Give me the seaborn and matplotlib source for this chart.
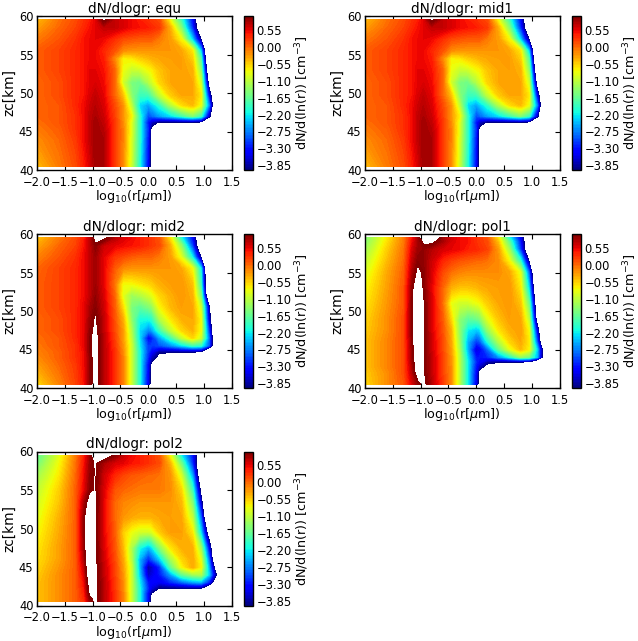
import numpy as np
import matplotlib
matplotlib.use("Agg")
import matplotlib.pyplot as plt
import seaborn as sns

# log10(r) columns shared by every panel
log_r = [-2.0, -1.6, -1.3, -1.15, -1.05, -0.95, -0.8, -0.6, -0.45, -0.3, -0.15, 0.0, 0.06, 0.2, 0.4, 0.6, 0.8, 0.95, 1.1, 1.25]

zc_equ = [40.5, 44, 45.3, 46.2, 47, 48.4, 49.7, 51.4, 53, 54.5, 55.5, 57, 58.5, 59.5]
dn_equ = [
    [-0.45, -0.1, 0.15, 0.4, 0.6, 0.85, 0.8, 0.25, -0.2, -1.0, -2.1, -3.4, -4.4, -6, -6, -6, -6, -6, -6, -6],
    [-0.2, 0.0, 0.25, 0.5, 0.7, 0.85, 0.8, 0.25, -0.15, -0.95, -2.0, -3.3, -4.3, -6, -6, -6, -6, -6, -6, -6],
    [-0.1, 0.05, 0.3, 0.5, 0.7, 0.85, 0.75, 0.25, -0.15, -0.9, -2.0, -3.2, -4.2, -5, -6, -6, -6, -6, -6, -6],
    [-0.05, 0.1, 0.3, 0.5, 0.7, 0.85, 0.7, 0.25, -0.2, -0.9, -2.0, -3.3, -3.7, -4.05, -4.05, -4.05, -4.05, -4.1, -5, -6],
    [0.0, 0.1, 0.3, 0.5, 0.7, 0.8, 0.65, 0.2, -0.25, -0.75, -2.0, -3.0, -2.9, -2.6, -2.3, -1.9, -1.5, -1.9, -3.8, -6],
    [0.0, 0.1, 0.35, 0.5, 0.65, 0.75, 0.6, 0.15, -0.25, -1.1, -2.3, -2.6, -2.4, -2.0, -1.2, -0.65, -0.45, -0.85, -2.8, -6],
    [0.0, 0.15, 0.35, 0.45, 0.6, 0.7, 0.55, 0.0, -0.5, -1.4, -1.9, -1.9, -1.7, -1.1, -0.55, -0.35, -0.35, -0.7, -3.5, -6],
    [0.0, 0.15, 0.35, 0.45, 0.55, 0.6, 0.5, 0.0, -1.0, -1.5, -1.6, -1.2, -1.0, -0.6, -0.35, -0.3, -0.35, -1.0, -4.5, -6],
    [0.05, 0.2, 0.35, 0.45, 0.55, 0.55, 0.45, 0.0, -0.85, -1.05, -1.0, -0.8, -0.75, -0.5, -0.35, -0.3, -0.4, -1.4, -5.2, -6],
    [0.05, 0.2, 0.35, 0.45, 0.5, 0.5, 0.4, -0.2, -0.75, -0.7, -0.55, -0.45, -0.4, -0.35, -0.3, -0.3, -0.55, -1.8, -6, -6],
    [0.05, 0.2, 0.35, 0.45, 0.5, 0.5, 0.35, 0.1, -0.2, -0.25, -0.25, -0.25, -0.25, -0.25, -0.25, -0.35, -0.7, -2.4, -6, -6],
    [-0.1, 0.1, 0.3, 0.45, 0.5, 0.55, 0.5, 0.3, 0.15, 0.1, 0.05, 0.05, 0.05, -0.1, -0.3, -0.8, -2.4, -4.0, -6, -6],
    [-0.3, 0.0, 0.2, 0.35, 0.45, 0.55, 0.7, 0.7, 0.6, 0.5, 0.45, 0.4, 0.35, 0.25, -0.4, -1.5, -3.2, -5, -6, -6],
    [-0.45, -0.05, 0.15, 0.3, 0.4, 0.55, 1.05, 0.7, 0.6, 0.5, 0.4, 0.3, 0.25, 0.15, -0.8, -1.9, -3.4, -5, -6, -6],
]

# mid1 can't be told apart from equ in the picture
zc_mid1 = zc_equ
dn_mid1 = dn_equ

zc_mid2 = [40.5, 43, 44, 44.7, 45.5, 46.5, 47.5, 49, 50.5, 52, 53.5, 55.5, 57, 58.5, 59.5]
dn_mid2 = [
    [-0.6, -0.15, 0.2, 0.45, 0.9, 1.15, 0.75, 0.3, -0.15, -1.0, -2.1, -3.5, -4.4, -6, -6, -6, -6, -6, -6, -6],
    [-0.3, 0.0, 0.25, 0.5, 0.9, 1.15, 0.75, 0.3, -0.15, -1.0, -2.1, -3.4, -4.2, -6, -6, -6, -6, -6, -6, -6],
    [-0.2, 0.05, 0.3, 0.5, 0.9, 1.15, 0.75, 0.3, -0.15, -1.0, -2.1, -3.2, -3.7, -4.2, -4.3, -4.3, -4.4, -5, -6, -6],
    [-0.15, 0.05, 0.3, 0.5, 0.95, 1.15, 0.75, 0.3, -0.2, -1.0, -2.1, -3.1, -3.4, -3.9, -3.95, -3.95, -3.95, -4.05, -6, -6],
    [-0.1, 0.1, 0.3, 0.55, 0.95, 1.15, 0.75, 0.25, -0.25, -1.0, -2.2, -3.1, -3.1, -3.0, -2.7, -2.3, -1.9, -2.0, -3.0, -6],
    [-0.05, 0.1, 0.35, 0.55, 0.95, 1.15, 0.75, 0.2, -0.3, -1.1, -2.3, -3.4, -3.3, -2.6, -1.9, -1.1, -0.6, -1.0, -2.9, -6],
    [0.0, 0.15, 0.35, 0.55, 0.9, 1.1, 0.7, 0.15, -0.3, -1.2, -2.3, -2.7, -2.6, -1.9, -1.1, -0.6, -0.4, -0.8, -3.2, -6],
    [0.0, 0.15, 0.35, 0.55, 0.85, 1.05, 0.7, 0.1, -0.4, -1.4, -2.1, -2.1, -2.0, -1.2, -0.7, -0.4, -0.35, -0.8, -3.7, -6],
    [0.05, 0.2, 0.35, 0.55, 0.8, 0.95, 0.65, 0.05, -0.65, -1.5, -1.7, -1.5, -1.4, -0.8, -0.45, -0.3, -0.35, -1.0, -3.9, -6],
    [0.05, 0.2, 0.35, 0.5, 0.7, 0.9, 0.6, 0.0, -0.9, -1.3, -1.2, -1.0, -0.9, -0.6, -0.4, -0.25, -0.4, -1.5, -5.5, -6],
    [0.05, 0.2, 0.35, 0.5, 0.7, 0.85, 0.55, -0.1, -0.8, -0.8, -0.7, -0.6, -0.55, -0.4, -0.3, -0.25, -0.5, -1.9, -6, -6],
    [0.0, 0.2, 0.35, 0.5, 0.7, 0.85, 0.55, 0.05, -0.2, -0.25, -0.25, -0.25, -0.25, -0.25, -0.25, -0.35, -0.8, -2.2, -6, -6],
    [-0.15, 0.1, 0.3, 0.5, 0.7, 0.85, 0.55, 0.25, 0.15, 0.05, 0.0, 0.0, 0.0, -0.1, -0.3, -0.9, -2.2, -4.0, -6, -6],
    [-0.35, 0.0, 0.2, 0.45, 0.7, 0.95, 0.65, 0.55, 0.5, 0.45, 0.4, 0.3, 0.25, 0.15, -0.4, -1.4, -3.1, -5, -6, -6],
    [-0.5, -0.1, 0.15, 0.4, 0.7, 1.15, 1.1, 0.75, 0.6, 0.5, 0.4, 0.3, 0.25, 0.1, -0.7, -2.1, -3.4, -5, -6, -6],
]

zc_pol1 = [40.5, 42, 42.8, 43.4, 44, 45, 46, 47.5, 49, 51, 53, 55, 56.5, 58, 59, 59.5]
dn_pol1 = [
    [-0.6, -0.2, 0.1, 0.6, 0.9, 1.12, 0.75, 0.25, -0.2, -1.1, -2.2, -3.5, -4.4, -6, -6, -6, -6, -6, -6, -6],
    [-0.55, -0.2, 0.15, 0.75, 1.25, 1.05, 0.7, 0.2, -0.2, -1.1, -2.2, -3.4, -4.3, -6, -6, -6, -6, -6, -6, -6],
    [-0.5, -0.15, 0.15, 0.8, 1.3, 1.05, 0.7, 0.2, -0.2, -1.1, -2.2, -3.3, -3.7, -4.2, -4.3, -4.3, -4.4, -4.6, -6, -6],
    [-0.5, -0.15, 0.15, 0.85, 1.35, 1.05, 0.7, 0.2, -0.25, -1.1, -2.2, -3.2, -3.4, -3.8, -3.95, -3.95, -3.95, -4.05, -5, -6],
    [-0.5, -0.15, 0.15, 0.9, 1.4, 1.05, 0.7, 0.2, -0.25, -1.1, -2.3, -3.3, -3.3, -3.2, -2.7, -2.1, -1.4, -1.6, -2.5, -5],
    [-0.5, -0.15, 0.15, 0.9, 1.4, 1.05, 0.65, 0.15, -0.3, -1.2, -2.5, -3.6, -3.5, -2.9, -1.7, -0.9, -0.45, -0.75, -2.4, -5],
    [-0.5, -0.15, 0.15, 0.95, 1.45, 1.05, 0.65, 0.15, -0.35, -1.3, -2.5, -3.1, -3.0, -2.1, -1.2, -0.6, -0.35, -0.7, -3.0, -6],
    [-0.55, -0.2, 0.15, 1.0, 1.5, 1.05, 0.6, 0.1, -0.4, -1.4, -2.2, -2.4, -2.3, -1.4, -0.7, -0.4, -0.3, -0.8, -3.6, -6],
    [-0.6, -0.2, 0.15, 1.0, 1.5, 1.05, 0.6, 0.05, -0.6, -1.4, -1.7, -1.6, -1.5, -0.9, -0.5, -0.3, -0.35, -1.1, -4.5, -6],
    [-0.7, -0.25, 0.1, 1.0, 1.5, 1.05, 0.6, -0.05, -0.85, -1.0, -1.0, -0.85, -0.8, -0.55, -0.35, -0.25, -0.5, -1.6, -5, -6],
    [-0.8, -0.3, 0.1, 0.95, 1.3, 0.98, 0.55, 0.0, -0.4, -0.5, -0.5, -0.45, -0.4, -0.35, -0.3, -0.25, -0.7, -2.3, -5.5, -6],
    [-0.95, -0.35, 0.05, 0.8, 1.1, 0.95, 0.6, 0.15, -0.05, -0.15, -0.2, -0.2, -0.2, -0.2, -0.2, -0.35, -0.9, -2.9, -6, -6],
    [-1.1, -0.45, 0.0, 0.7, 0.95, 0.9, 0.65, 0.35, 0.2, 0.1, 0.05, 0.0, 0.0, -0.05, -0.2, -0.8, -2.0, -4.0, -6, -6],
    [-1.3, -0.55, -0.05, 0.6, 0.85, 0.9, 0.75, 0.6, 0.55, 0.5, 0.4, 0.35, 0.3, 0.2, -0.3, -1.3, -3.1, -5, -6, -6],
    [-1.45, -0.65, -0.1, 0.5, 0.8, 1.05, 1.1, 0.8, 0.6, 0.5, 0.45, 0.3, 0.25, 0.15, -0.5, -1.7, -3.3, -5, -6, -6],
    [-1.5, -0.7, -0.1, 0.45, 0.85, 1.3, 1.3, 0.85, 0.65, 0.5, 0.45, 0.3, 0.25, 0.1, -0.7, -2.1, -3.5, -5, -6, -6],
]

zc_pol2 = [40.5, 41, 41.6, 42.2, 43, 44, 45, 46, 47.5, 49.5, 51.5, 53.5, 55, 57, 58.5, 59.5]
dn_pol2 = [
    [-0.5, -0.2, 0.05, 0.3, 0.85, 1.1, 0.75, 0.3, -0.15, -1.0, -2.1, -3.4, -4.4, -6, -6, -6, -6, -6, -6, -6],
    [-0.5, -0.2, 0.05, 0.35, 0.95, 1.1, 0.75, 0.3, -0.15, -1.0, -2.1, -3.4, -4.3, -6, -6, -6, -6, -6, -6, -6],
    [-0.5, -0.2, 0.05, 0.4, 1.1, 1.1, 0.75, 0.3, -0.15, -1.0, -2.1, -3.4, -4.0, -4.3, -4.4, -4.4, -4.4, -4.5, -6, -6],
    [-0.5, -0.2, 0.05, 0.45, 1.2, 1.1, 0.75, 0.25, -0.2, -1.0, -2.1, -3.2, -3.6, -4.05, -4.05, -4.05, -4.05, -4.05, -5, -6],
    [-0.5, -0.2, 0.05, 0.5, 1.3, 1.1, 0.75, 0.25, -0.2, -1.0, -2.2, -3.3, -3.4, -3.5, -3.2, -2.9, -2.6, -2.5, -3.3, -5],
    [-0.55, -0.2, 0.05, 0.6, 1.5, 1.1, 0.7, 0.2, -0.25, -1.0, -2.4, -3.7, -3.6, -3.3, -2.6, -1.7, -1.3, -1.2, -2.4, -4.3],
    [-0.6, -0.25, 0.05, 0.7, 1.6, 1.1, 0.7, 0.2, -0.3, -1.0, -2.5, -3.85, -3.7, -3.2, -1.7, -0.8, -0.35, -0.75, -2.6, -5],
    [-0.65, -0.3, 0.05, 0.8, 1.7, 1.05, 0.65, 0.15, -0.35, -1.15, -2.5, -3.2, -3.0, -2.4, -1.3, -0.6, -0.35, -0.9, -2.9, -6],
    [-0.7, -0.3, 0.05, 0.9, 1.8, 1.05, 0.6, 0.1, -0.45, -1.2, -2.1, -2.5, -2.3, -1.5, -0.7, -0.4, -0.4, -1.3, -3.5, -6],
    [-0.8, -0.35, 0.05, 0.95, 1.9, 1.05, 0.55, 0.05, -0.55, -0.85, -1.0, -1.0, -0.95, -0.55, -0.3, -0.3, -0.7, -2.3, -4.6, -6],
    [-0.9, -0.4, 0.05, 0.95, 1.7, 1.05, 0.55, 0.0, -0.25, -0.35, -0.4, -0.4, -0.4, -0.35, -0.3, -0.35, -1.1, -2.9, -6, -6],
    [-1.0, -0.5, 0.05, 0.8, 1.2, 1.1, 0.55, 0.0, -0.15, -0.2, -0.25, -0.25, -0.25, -0.25, -0.25, -0.45, -1.5, -3.7, -6, -6],
    [-1.1, -0.55, 0.05, 0.55, 0.95, 1.03, 0.6, 0.1, 0.0, -0.05, -0.1, -0.1, -0.1, -0.1, -0.2, -0.6, -1.9, -4.2, -6, -6],
    [-1.3, -0.7, 0.0, 0.5, 0.9, 1.03, 0.65, 0.35, 0.2, 0.1, 0.05, 0.0, 0.0, -0.05, -0.25, -1.0, -2.6, -4.9, -6, -6],
    [-1.55, -0.8, -0.05, 0.45, 0.85, 1.05, 0.8, 0.6, 0.55, 0.45, 0.4, 0.3, 0.25, 0.15, -0.45, -1.6, -3.2, -5, -6, -6],
    [-1.7, -0.9, -0.1, 0.4, 0.85, 1.4, 1.3, 0.95, 0.7, 0.5, 0.4, 0.3, 0.25, 0.1, -0.8, -2.2, -3.3, -4.8, -6, -6],
]

names = ["equ", "mid1", "mid2", "pol1", "pol2"]
zc_all = [zc_equ, zc_mid1, zc_mid2, zc_pol1, zc_pol2]
dn_all = [dn_equ, dn_mid1, dn_mid2, dn_pol1, dn_pol2]
cbar_ticks = [-3.85, -3.30, -2.75, -2.20, -1.65, -1.10, -0.55, 0.00, 0.55]
x_ticks = [-2.0, -1.5, -1.0, -0.5, 0.0, 0.5, 1.0, 1.5]
y_ticks = [40, 45, 50, 55, 60]

sns.set_style("ticks", {"xtick.direction": "in", "ytick.direction": "in",
                        "axes.edgecolor": "black", "xtick.color": "black",
                        "ytick.color": "black", "text.color": "black",
                        "axes.labelcolor": "black"})
plt.rcParams["font.family"] = "DejaVu Sans"
plt.rcParams["mathtext.fontset"] = "dejavusans"

W, H = 638, 641
fig = plt.figure(figsize=(W / 100, H / 100), dpi=100)

# left edge of axes and top edge of axes in pixels
pos = [(37, 16), (365, 16), (37, 234), (365, 234), (37, 451.5)]
levels = np.arange(-4.0, 1.0001, 0.05)

for name, zc, dn, (px, py) in zip(names, zc_all, dn_all, pos):
    ax = fig.add_axes([px / W, 1 - (py + 154) / H, 194.5 / W, 154 / H])
    cs = ax.contourf(log_r, zc, np.array(dn), levels=levels, cmap="jet")
    ax.set_xlim(-2.0, 1.5)
    ax.set_ylim(40, 60)
    ax.set_xticks(x_ticks)
    ax.set_yticks(y_ticks)
    ax.tick_params(direction="in", top=True, right=True, labelsize=8.3, length=3.5, width=0.8)
    ax.tick_params(axis="x", pad=4)
    ax.tick_params(axis="y", pad=2.5)
    ax.set_title("dN/dlogr: " + name, fontsize=9.8, pad=2.5)
    ax.set_xlabel(r"log$_{10}$(r[$\mu$m])", fontsize=9.2, labelpad=-0.3)
    ax.set_ylabel("zc[km]", fontsize=9.8, labelpad=2)
    for s in ax.spines.values():
        s.set_visible(True)
        s.set_linewidth(1.0)

    cax = fig.add_axes([(px + 207) / W, 1 - (py + 154) / H, 8.5 / W, 154 / H])
    cb = fig.colorbar(cs, cax=cax, ticks=cbar_ticks)
    cb.ax.set_yticklabels(["\u2212%.2f" % abs(t) if t < 0 else "%.2f" % t for t in cbar_ticks])
    cb.ax.tick_params(direction="in", labelsize=8.3, length=2.5, pad=3, width=0.7)
    cb.set_label(r"dN/d(ln(r)) [cm$^{-3}$]", fontsize=9.2, labelpad=1)
    cb.outline.set_linewidth(1.0)

fig.savefig("out.png", dpi=100)
